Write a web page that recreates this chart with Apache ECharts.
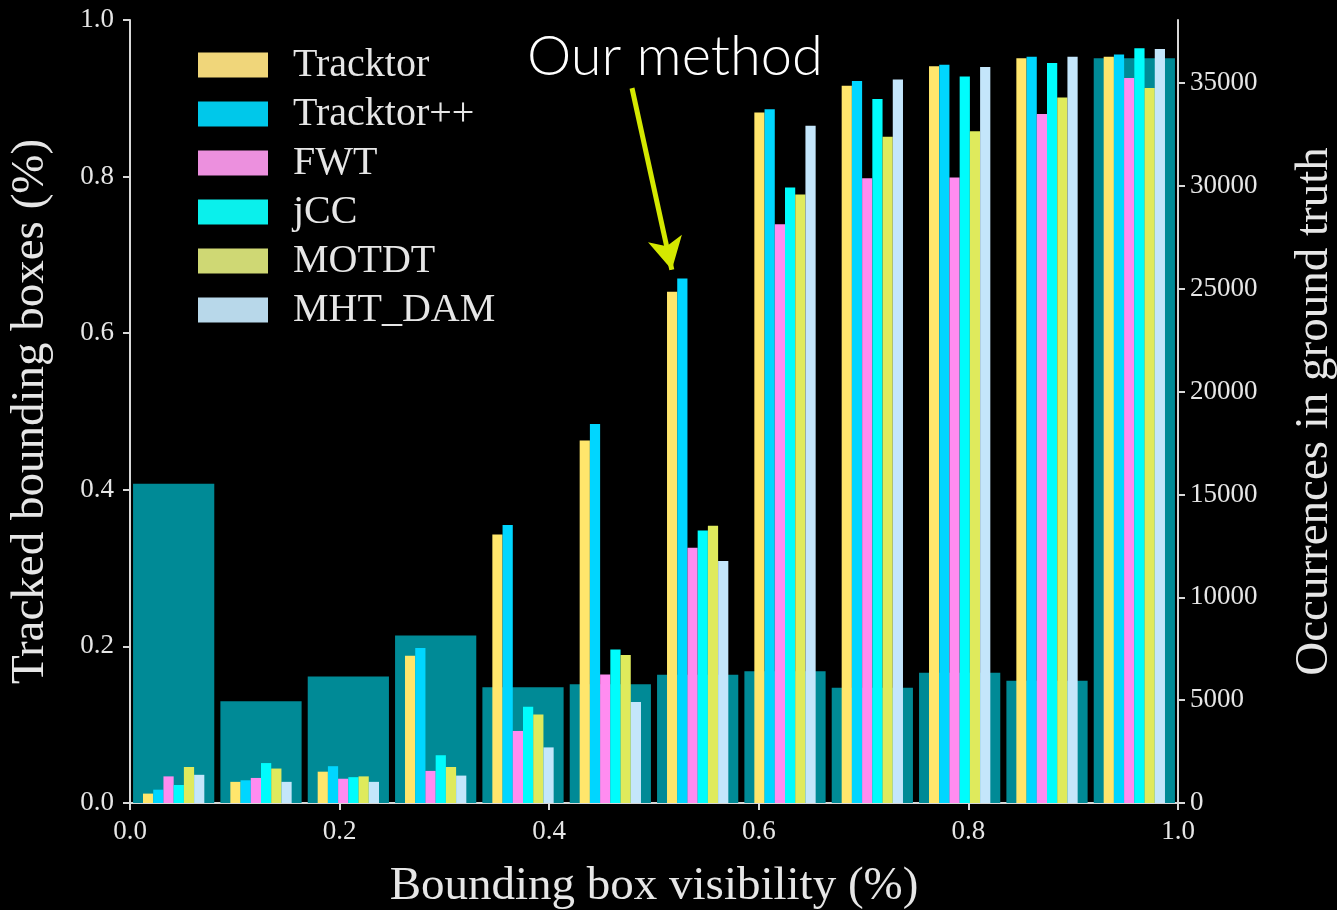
<!DOCTYPE html>
<html>
<head>
<meta charset="utf-8">
<title>Tracked bounding boxes vs visibility</title>
<script src="https://cdn.jsdelivr.net/npm/echarts@6/dist/echarts.min.js"></script>
<style>
  html, body { margin: 0; padding: 0; background: #000; }
  #chart { width: 1337px; height: 910px; }
</style>
</head>
<body>
<div id="chart"></div>
<script>
// visibility bins (12 bins of width 1/12)
const bins = ['b1', 'b2', 'b3', 'b4', 'b5', 'b6', 'b7', 'b8', 'b9', 'b10', 'b11', 'b12']

// share of tracked boxes per bin (left axis)
const tracktor   = [0.012, 0.027, 0.040, 0.188, 0.343, 0.463, 0.653, 0.882, 0.916, 0.941, 0.951, 0.953]
const tracktorPP = [0.017, 0.029, 0.047, 0.198, 0.355, 0.484, 0.670, 0.886, 0.922, 0.943, 0.953, 0.956]
const fwt        = [0.034, 0.032, 0.031, 0.041, 0.092, 0.164, 0.326, 0.739, 0.798, 0.799, 0.880, 0.926]
const jcc        = [0.023, 0.051, 0.033, 0.061, 0.123, 0.196, 0.348, 0.786, 0.899, 0.928, 0.945, 0.964]
const motdt      = [0.046, 0.044, 0.034, 0.046, 0.113, 0.189, 0.354, 0.777, 0.851, 0.858, 0.901, 0.913]
const mhtDam     = [0.036, 0.027, 0.027, 0.035, 0.071, 0.129, 0.309, 0.865, 0.924, 0.940, 0.953, 0.963]

// ground truth occurrences per bin (right axis)
const occurrences = [15520, 4940, 6150, 8140, 5630, 5770, 6230, 6410, 5600, 6330, 5940, 36200]

const rightTicks = [0, 5000, 10000, 15000, 20000, 25000, 30000, 35000]

// annotation arrow, in data units (x visibility, y tracked share)
const arrowFrom = [0.479, 0.913]
const arrowTo = [0.517, 0.681]

const serif = 'Liberation Serif'
const axisColor = '#d8d8d8'
const textColor = '#e6e6e6'

const methods = [
  { name: 'Tracktor', data: tracktor, color: '#ffe66c', legend: '#f0d67a' },
  { name: 'Tracktor++', data: tracktorPP, color: '#00d6ff', legend: '#00c8ea' },
  { name: 'FWT', data: fwt, color: '#ff8cf0', legend: '#ec90de' },
  { name: 'jCC', data: jcc, color: '#00fcfc', legend: '#0af0ec' },
  { name: 'MOTDT', data: motdt, color: '#dfea5c', legend: '#cfd874' },
  { name: 'MHT_DAM', data: mhtDam, color: '#c4e6fb', legend: '#b8d8ea' }
]

const chart = echarts.init(document.getElementById('chart'))

const series = [{
  name: 'Occurrences',
  type: 'bar',
  xAxisIndex: 1,
  yAxisIndex: 1,
  data: occurrences,
  barWidth: '93%',
  itemStyle: { color: '#008a96' },
  z: 1
}]

methods.forEach(m => {
  series.push({
    name: m.name,
    type: 'bar',
    xAxisIndex: 0,
    yAxisIndex: 0,
    data: m.data,
    barWidth: '11.7%',
    barGap: '0%',
    itemStyle: { color: m.color },
    z: 2
  })
})

// helper series only used to carry the arrow
series.push({
  type: 'line',
  xAxisIndex: 2,
  yAxisIndex: 0,
  data: [],
  silent: true,
  markLine: {
    silent: true,
    symbol: ['none', 'arrow'],
    symbolSize: [26, 32],
    label: { show: false },
    lineStyle: { color: '#d4e800', width: 5, type: 'solid' },
    data: [[{ coord: arrowFrom }, { coord: arrowTo }]]
  }
})

chart.setOption({
  backgroundColor: '#000',
  animation: false,
  title: {
    text: 'Our method',
    left: 522,
    top: 24,
    textStyle: {
      color: '#ffffff',
      fontFamily: 'Lato',
      fontWeight: 300,
      fontSize: 56
    }
  },
  grid: {
    left: 130,
    right: 159,
    top: 20,
    bottom: 107,
    outerBoundsMode: 'none',
    containLabel: false
  },
  legend: {
    orient: 'vertical',
    left: 193,
    top: 40,
    itemWidth: 70,
    itemHeight: 25,
    itemGap: 9,
    icon: 'rect',
    textStyle: { color: textColor, fontFamily: serif, fontSize: 40, padding: [0, 0, 0, 20] },
    data: methods.map(m => ({ name: m.name, itemStyle: { color: m.legend } }))
  },
  xAxis: [
    { type: 'category', data: bins, show: false, boundaryGap: true },
    { type: 'category', data: bins, show: false, boundaryGap: true },
    {
      type: 'value',
      min: 0,
      max: 1,
      interval: 0.2,
      position: 'bottom',
      name: 'Bounding box visibility (%)',
      nameLocation: 'middle',
      nameGap: 60,
      nameTextStyle: { color: textColor, fontFamily: serif, fontSize: 47 },
      axisLine: { show: true, lineStyle: { color: axisColor, width: 2 } },
      axisTick: { show: true, length: 7, lineStyle: { color: axisColor, width: 2 } },
      axisLabel: {
        color: textColor,
        fontFamily: serif,
        fontSize: 27,
        margin: 15,
        formatter: v => v.toFixed(1)
      },
      splitLine: { show: false }
    }
  ],
  yAxis: [
    {
      type: 'value',
      min: 0,
      max: 1,
      interval: 0.2,
      position: 'left',
      name: 'Tracked bounding boxes (%)',
      nameLocation: 'middle',
      nameGap: 76,
      nameTextStyle: { color: textColor, fontFamily: serif, fontSize: 47 },
      axisLine: { show: true, lineStyle: { color: axisColor, width: 2 } },
      axisTick: { show: true, length: 7, lineStyle: { color: axisColor, width: 2 } },
      axisLabel: {
        color: textColor,
        fontFamily: serif,
        fontSize: 27,
        margin: 16,
        formatter: v => v.toFixed(1)
      },
      splitLine: { show: false }
    },
    {
      type: 'value',
      min: 0,
      max: 38060,
      position: 'right',
      name: 'Occurrences in ground truth',
      nameLocation: 'middle',
      nameGap: 113,
      nameTextStyle: { color: textColor, fontFamily: serif, fontSize: 47 },
      axisLine: { show: true, lineStyle: { color: axisColor, width: 2 } },
      axisTick: { show: true, length: 7, customValues: rightTicks, lineStyle: { color: axisColor, width: 2 } },
      axisLabel: {
        color: textColor,
        fontFamily: serif,
        fontSize: 27,
        margin: 12,
        customValues: rightTicks,
        formatter: v => String(v)
      },
      splitLine: { show: false }
    }
  ],
  series: series
})
</script>
</body>
</html>
